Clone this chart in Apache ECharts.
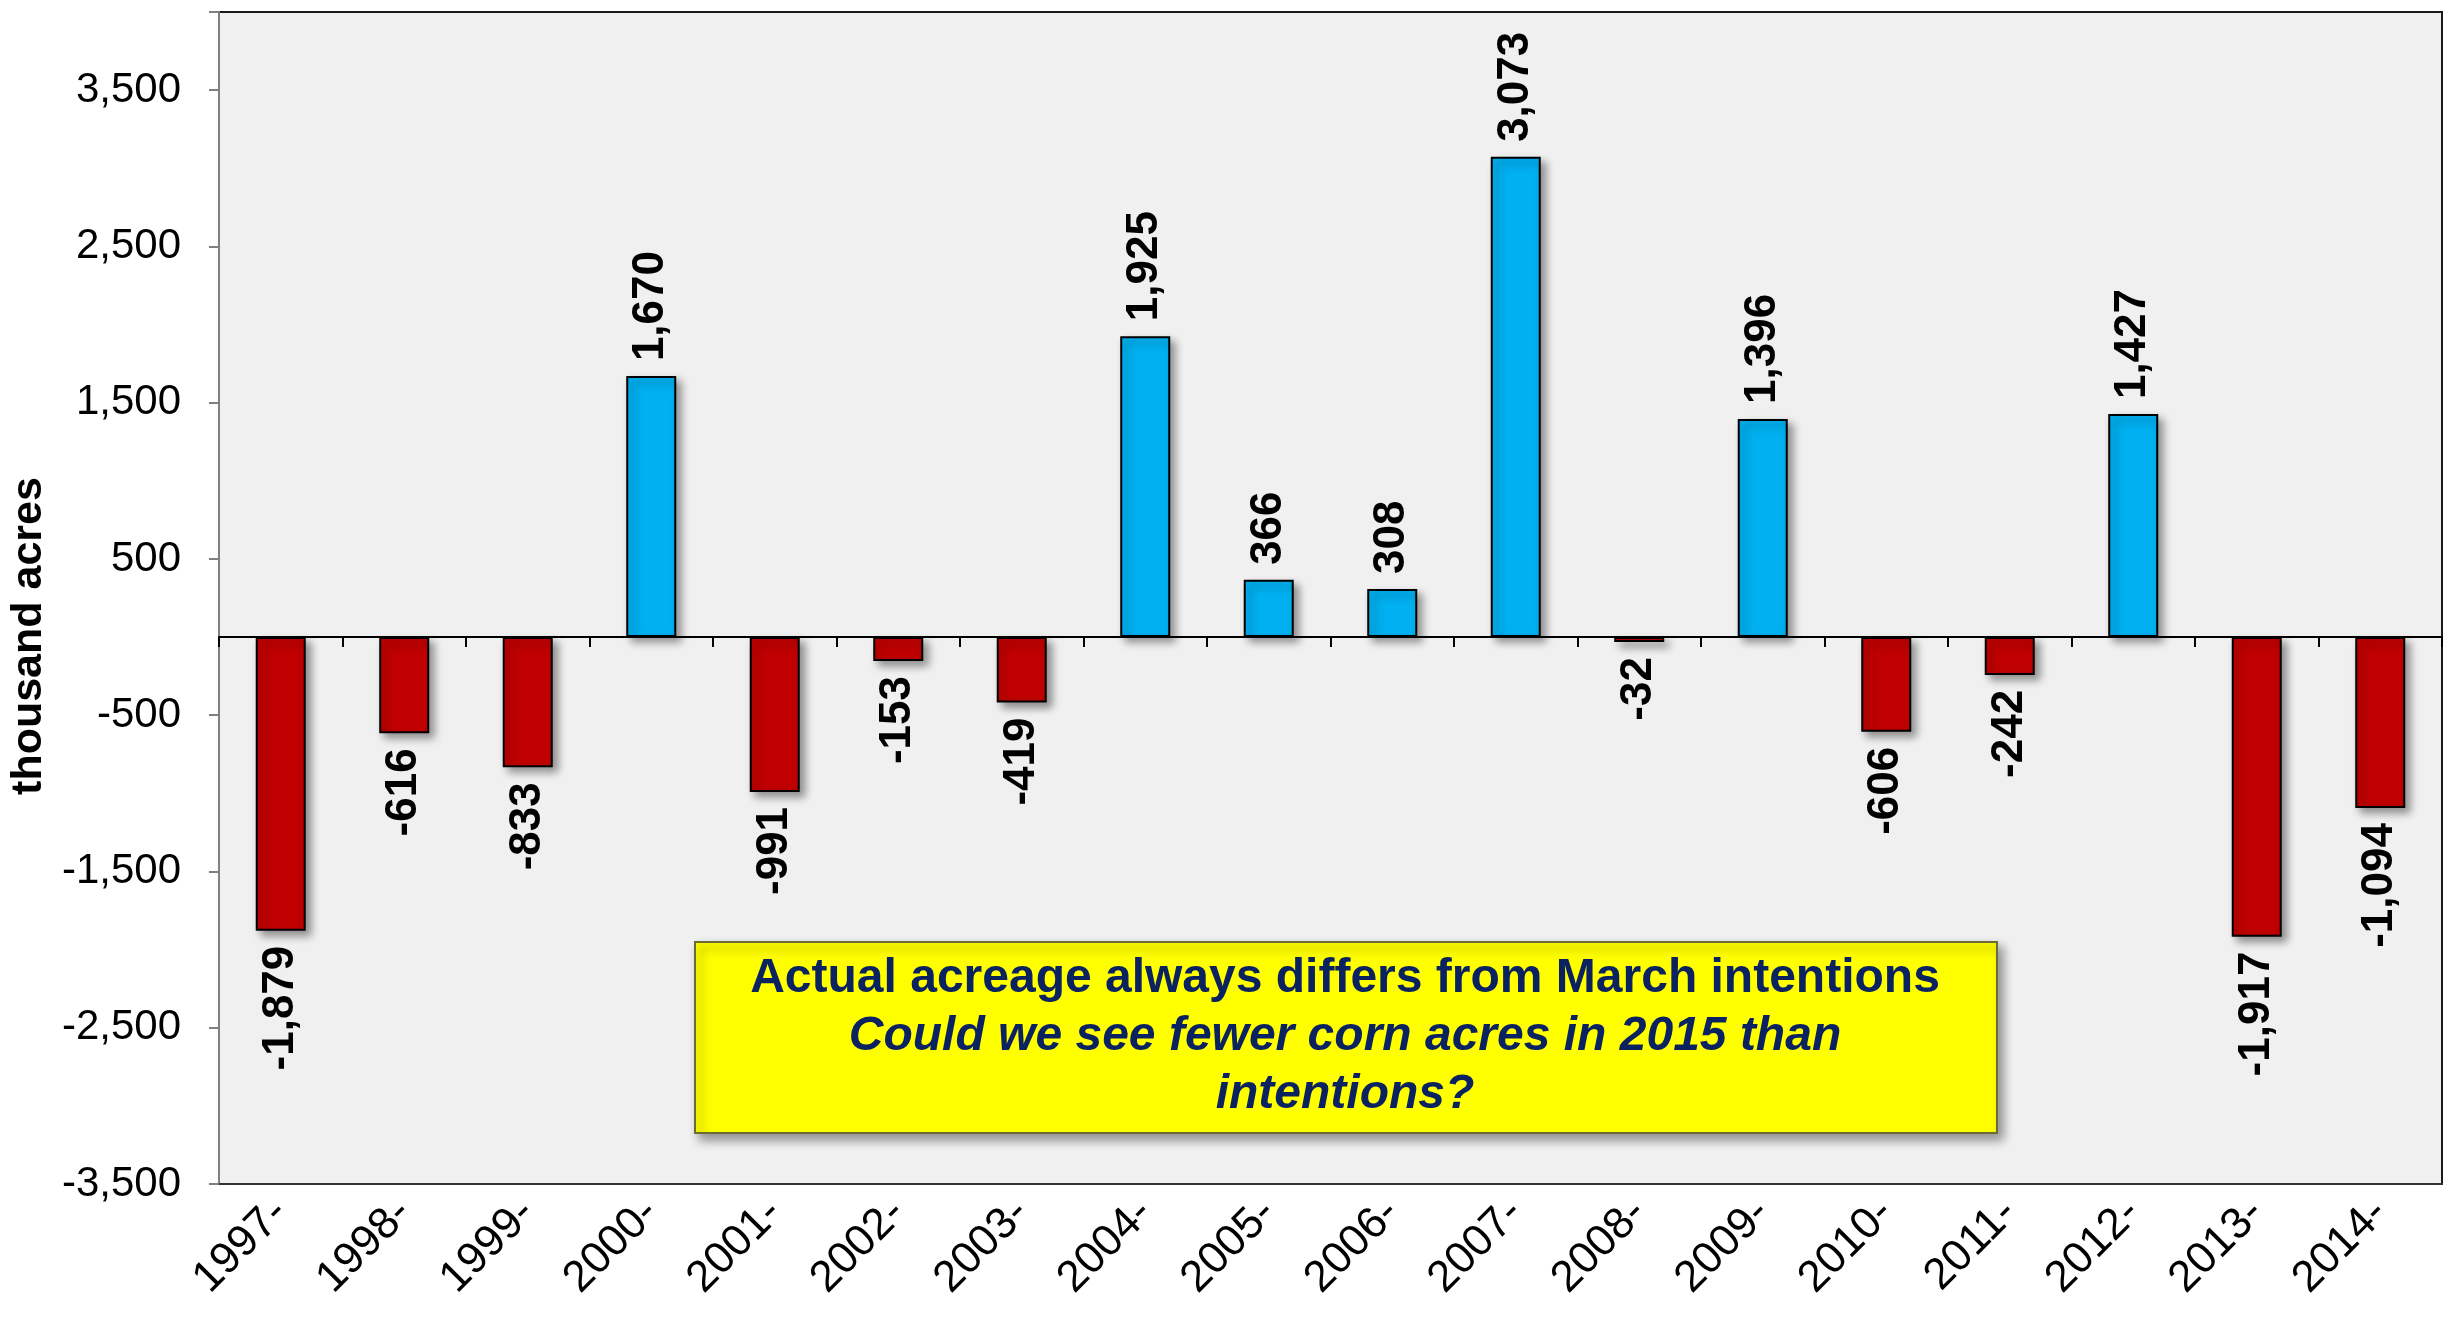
<!DOCTYPE html>
<html>
<head>
<meta charset="utf-8">
<script src="https://cdn.jsdelivr.net/npm/echarts@6/dist/echarts.min.js"></script>
<style>
  html, body { margin: 0; padding: 0; background: #fff; }
  #chart { width: 2458px; height: 1319px; }
</style>
</head>
<body>
<div id="chart"></div>
<script>
  var years = ['1997-', '1998-', '1999-', '2000-', '2001-', '2002-', '2003-', '2004-', '2005-',
    '2006-', '2007-', '2008-', '2009-', '2010-', '2011-', '2012-', '2013-', '2014-'];
  var diffs = [-1879, -616, -833, 1670, -991, -153, -419, 1925, 366,
    308, 3073, -32, 1396, -606, -242, 1427, -1917, -1094];
  var yTicks = [-3500, -2500, -1500, -500, 500, 1500, 2500, 3500];

  var fmt = function (v) { return Number(v).toLocaleString('en-US'); };

  var chart = echarts.init(document.getElementById('chart'));

  var barData = diffs.map(function (v) {
    var up = v >= 0;
    return {
      value: v,
      itemStyle: { color: up ? '#00b0f0' : '#c00000' },
      label: {
        position: up ? 'top' : 'bottom',
        align: up ? 'left' : 'right',
        verticalAlign: 'middle'
      }
    };
  });

  var option = {
    backgroundColor: '#ffffff',
    textStyle: { fontFamily: 'Liberation Sans, Arial, sans-serif' },
    grid: {
      left: 216, right: 16, top: 12, bottom: 135,
      show: true, backgroundColor: '#f0f0f0',
      borderColor: '#1a1a1a', borderWidth: 2
    },
    xAxis: [{
      type: 'category',
      data: years,
      position: 'bottom',
      axisLine: { onZero: true, lineStyle: { color: '#000', width: 2 } },
      axisTick: { show: true, length: 10, lineStyle: { color: '#000', width: 2 } },
      axisLabel: { show: false }
    }, {
      type: 'category',
      data: years,
      position: 'bottom',
      axisLine: { onZero: false, lineStyle: { color: '#333', width: 2 } },
      axisTick: { show: false },
      axisLabel: {
        rotate: 45, margin: 22, color: '#000',
        fontSize: 44, fontFamily: 'Liberation Sans, Arial, sans-serif'
      }
    }],
    yAxis: {
      type: 'value',
      min: -3500, max: 4000, interval: 1000,
      name: 'thousand acres',
      nameLocation: 'middle',
      nameGap: 154,
      nameTextStyle: {
        fontSize: 43, fontWeight: 'bold', color: '#000',
        fontFamily: 'Liberation Sans, Arial, sans-serif',
        padding: [0, 76, 0, 0]
      },
      splitLine: { show: false },
      axisLine: { show: true, lineStyle: { color: '#808080', width: 2 } },
      axisTick: { show: true, length: 10, lineStyle: { color: '#808080', width: 2 } },
      axisLabel: {
        fontSize: 42, color: '#000', margin: 38,
        formatter: function (v) { return yTicks.indexOf(v) >= 0 ? fmt(v) : ''; }
      }
    },
    series: [{
      type: 'bar',
      xAxisIndex: 0,
      data: barData,
      barWidth: 50,
      itemStyle: {
        borderColor: '#000', borderWidth: 2,
        shadowBlur: 8, shadowOffsetX: 5, shadowOffsetY: 5,
        shadowColor: 'rgba(0,0,0,0.4)'
      },
      label: {
        show: true,
        rotate: 90,
        distance: 15,
        fontSize: 44, fontWeight: 'bold', color: '#000',
        fontFamily: 'Liberation Sans, Arial, sans-serif',
        formatter: function (p) { return fmt(p.value); }
      }
    }],
    graphic: [{
      type: 'rect',
      left: 694, top: 941,
      shape: { width: 1302, height: 191 },
      style: {
        fill: '#ffff00', stroke: '#6b6b3a', lineWidth: 2,
        shadowBlur: 10, shadowOffsetX: 5, shadowOffsetY: 6,
        shadowColor: 'rgba(0,0,0,0.4)'
      },
      z: 10
    }, {
      type: 'text',
      x: 1345, y: 950,
      style: {
        text: '{b|Actual acreage always differs from March intentions}\n' +
          '{i|Could we see fewer corn acres in 2015 than}\n{i|intentions?}',
        align: 'center',
        verticalAlign: 'top',
        rich: {
          b: { fontSize: 48, fontWeight: 'bold', fill: '#0a2260', lineHeight: 58,
            fontFamily: 'Liberation Sans, Arial, sans-serif' },
          i: { fontSize: 48, fontWeight: 'bold', fontStyle: 'italic', fill: '#0a2260', lineHeight: 58,
            fontFamily: 'Liberation Sans, Arial, sans-serif' }
        }
      },
      z: 11
    }]
  };

  chart.setOption(option);
</script>
</body>
</html>
